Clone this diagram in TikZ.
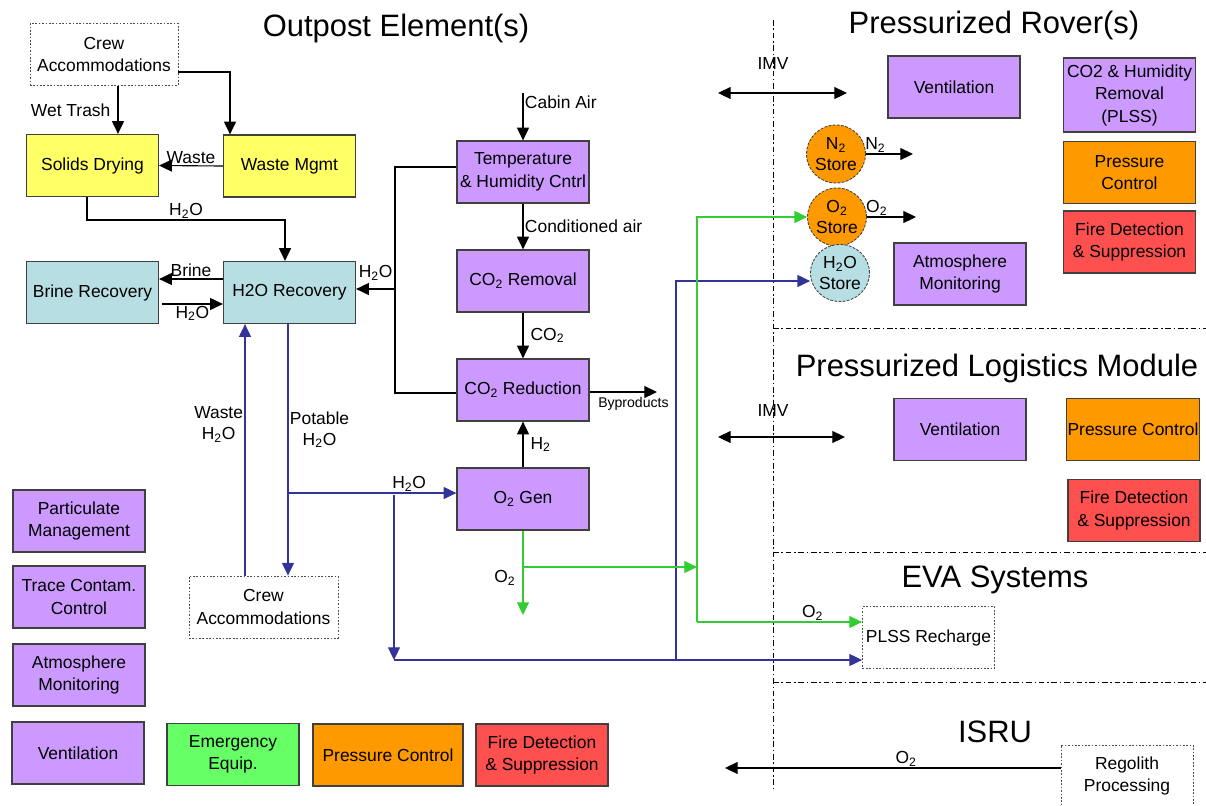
\documentclass[tikz,border=0pt]{standalone}
\usepackage{fontspec}
\setmainfont{Liberation Sans}
\usetikzlibrary{arrows.meta,shapes.geometric}
\definecolor{lilac}{RGB}{204,153,255}
\definecolor{lemon}{RGB}{255,255,102}
\definecolor{aqua}{RGB}{183,222,226}
\definecolor{amber}{RGB}{255,153,0}
\definecolor{salmon}{RGB}{255,80,80}
\definecolor{mint}{RGB}{102,255,102}
\definecolor{navy}{RGB}{51,51,153}
\definecolor{leaf}{RGB}{51,204,51}
\newcommand{\two}{\textsubscript{2}}

\begin{document}
\begin{tikzpicture}[x=0.025cm,y=-0.025cm,>={Triangle[length=9pt,width=8.5pt]},
  blk/.style={draw=black!75,line width=.9pt,minimum width=3.3cm,minimum height=1.55cm,align=center,inner sep=1pt,font=\fontsize{12.4}{16}\selectfont},
  ghost/.style={blk,draw=black!70,line width=.6pt,dash pattern=on 1.2pt off 1.2pt},
  tank/.style={ellipse,draw=black!75,line width=.6pt,dash pattern=on 2pt off 1pt,inner sep=0pt,minimum width=1.45cm,minimum height=1.45cm,align=center,font=\fontsize{12.4}{15}\selectfont},
  head/.style={font=\fontsize{22}{26}\selectfont},
  txt/.style={font=\fontsize{12.4}{15}\selectfont,inner sep=1pt,align=center},
  arr/.style={->,line width=.8pt},
  warr/.style={arr,navy},
  garr/.style={arr,leaf},
  zone/.style={line width=.6pt,dash pattern=on 4pt off 2pt on 1pt off 2pt}]
\useasboundingbox (0,0) rectangle (1206,805);

\draw[zone] (773,20) -- (773,790);
\draw[zone] (773,328) -- (1206,328);
\draw[zone] (773,552) -- (1206,552);
\draw[zone] (773,682) -- (1206,682);

\node[head] (houtpost) at (396,28) {Outpost Element(s)};
\node[head] (hrover) at (994,25) {Pressurized Rover(s)};
\node[head] (hplm) at (997,368) {Pressurized Logistics Module};
\node[head] (heva) at (995,580) {EVA Systems};
\node[head] (hisru) at (995,732) {ISRU};

\node[ghost,minimum width=3.7cm] (crewtop) at (104,54.5) {Crew\\Accommodations};
\node[blk,fill=lemon] (solids) at (92.5,165.5) {Solids Drying};
\node[blk,fill=lemon] (wastemgmt) at (289.5,166) {Waste Mgmt};
\node[blk,fill=aqua] (brine) at (92.5,292.5) {Brine Recovery};
\node[blk,fill=aqua] (h2orec) at (289.5,292.5) {H2O Recovery};
\node[blk,fill=lilac] (temp) at (523,172) {Temperature\\\& Humidity Cntrl};
\node[blk,fill=lilac] (co2rem) at (523,281) {CO\two{} Removal};
\node[blk,fill=lilac] (co2red) at (523,390) {CO\two{} Reduction};
\node[blk,fill=lilac] (o2gen) at (523,499) {O\two{} Gen};
\node[ghost,minimum width=3.725cm] (crewlow) at (263.5,607) {Crew\\Accommodations};

\node[blk,fill=lilac] (partic) at (79,521) {Particulate\\Management};
\node[blk,fill=lilac] (trace) at (79,597) {Trace Contam.\\Control};
\node[blk,fill=lilac] (atmos) at (79,675) {Atmosphere\\Monitoring};
\node[blk,fill=lilac] (vent) at (78,753) {Ventilation};
\node[blk,fill=mint] (emerg) at (233,754.5) {Emergency\\Equip.};
\node[blk,fill=amber,minimum width=3.75cm] (press) at (388,755) {Pressure Control};
\node[blk,fill=salmon] (fire) at (542,755) {Fire Detection\\\& Suppression};

\node[blk,fill=lilac] (rvent) at (954,87) {Ventilation};
\node[blk,fill=lilac,minimum height=1.85cm] (rco2) at (1129.5,95) {CO2 \& Humidity\\Removal\\(PLSS)};
\node[blk,fill=amber] (rpress) at (1129.5,172.5) {Pressure\\Control};
\node[blk,fill=salmon] (rfire) at (1129.5,242) {Fire Detection\\\& Suppression};
\node[blk,fill=lilac] (ratm) at (960,274) {Atmosphere\\Monitoring};
\node[tank,fill=amber] (n2s) at (836,154) {N\two\\Store};
\node[tank,fill=amber] (o2s) at (837,217) {O\two\\Store};
\node[tank,fill=aqua,minimum width=1.25cm,minimum height=1.425cm] (h2os) at (840,273) {H\two{}O\\Store};

\node[blk,fill=lilac] (lvent) at (960,429.5) {Ventilation};
\node[blk,fill=amber] (lpress) at (1133,429.5) {Pressure Control};
\node[blk,fill=salmon] (lfire) at (1134,510.5) {Fire Detection\\\& Suppression};

\node[ghost] (plss) at (928.5,637.5) {PLSS Recharge};
\node[ghost] (regolith) at (1127,776) {Regolith\\Processing};

\node[txt] (imvrover) at (773,63) {IMV};
\node[txt] (imvplm) at (773,410) {IMV};
\coordinate (cabin) at (523,93);
\coordinate (byprod) at (657,392);

\draw[arr] (crewtop.south -| 118,0) -- node[txt,left,xshift=-4pt]{Wet Trash} (118,0 |- solids.north);
\draw[arr] (crewtop.east |- 0,72) -| (wastemgmt.north -| 230,0);
\draw[arr] (wastemgmt.west) -- node[txt,above]{Waste} (solids.east);
\draw[arr] (solids.south -| 87,0) -- (87,220) -- node[txt,above]{H\two{}O} (285,220) -- (h2orec.north -| 285,0);
\draw[arr] (h2orec.west |- 0,279) -- node[txt,above]{Brine} (brine.east |- 0,279);
\draw[arr] (162,304) -- node[txt,below]{H\two{}O} (h2orec.west |- 0,304);
\draw[line width=.8pt] (temp.west |- 0,167) -- (395,167) -- (395,393) -- (co2red.west |- 0,393);
\draw[arr] (395,289) -- node[txt,above=5pt]{H\two{}O} (h2orec.east |- 0,289);
\draw[arr] (cabin) -- node[txt,right,pos=.2]{Cabin Air} (temp.north);
\draw[arr] (temp.south) -- node[txt,right]{Conditioned air} (co2rem.north);
\draw[arr] (co2rem.south) -- node[txt,right,xshift=4pt]{CO\two} (co2red.north);
\draw[arr] (co2red.east |- 0,392) -- node[below,pos=.65,font=\fontsize{10}{12}\selectfont]{Byproducts} (byprod);
\draw[arr] (o2gen.north) -- node[txt,right,xshift=4pt]{H\two} (co2red.south);

\draw[warr] (h2orec.south -| 288,0) -- node[txt,right,pos=.42,text=black]{Potable\\H\two{}O} (288,0 |- crewlow.north);
\draw[warr] (crewlow.north -| 245,0) -- node[txt,left,pos=.6,text=black]{Waste\\H\two{}O} (245,0 |- h2orec.south);
\draw[warr] (288,493) -- node[txt,above,pos=.72,text=black]{H\two{}O} (o2gen.west |- 0,493);
\draw[warr] (394,495) -- (394,660);
\draw[warr] (394,660) -- (plss.west |- 0,660);
\draw[warr] (676,660) |- (h2os.west |- 0,281);

\draw[garr] (o2gen.south) -- node[txt,left,pos=.56,xshift=-4pt,text=black]{O\two} (523,615);
\draw[garr] (523,567) -- (697,567);
\draw[garr] (697,622) |- (o2s.west);
\draw[garr] (697,622) -- node[txt,above,pos=.7,text=black]{O\two} (plss.west |- 0,622);

\draw[arr] (n2s.east) -- node[txt,above,pos=.2]{N\two} (913,154);
\draw[arr] (o2s.east) -- node[txt,above,pos=.2]{O\two} (916,217);
\draw[<->,line width=.8pt] (718,93) -- (847,93);
\draw[<->,line width=.8pt] (718,437) -- (845,437);
\draw[arr] (regolith.west |- 0,768) -- node[txt,above,pos=.46]{O\two} (725,768);
\end{tikzpicture}
\end{document}
